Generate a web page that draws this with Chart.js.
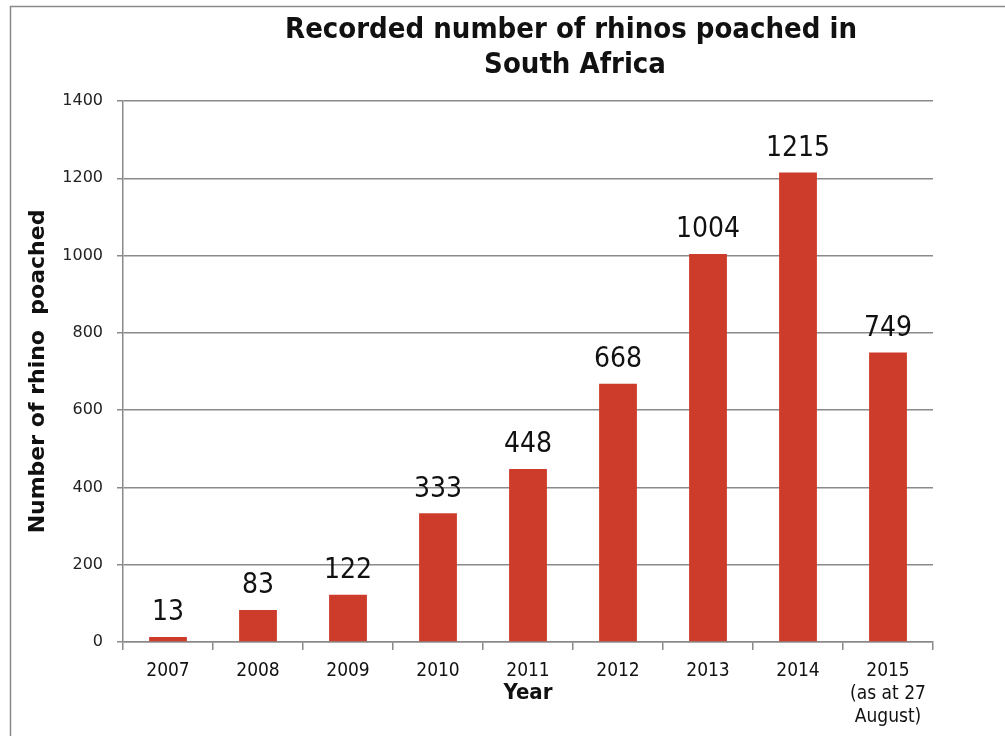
<!DOCTYPE html>
<html>
<head>
<meta charset="utf-8">
<script src="https://cdn.jsdelivr.net/npm/chart.js@4.4.0/dist/chart.umd.min.js"></script>
<style>
  html, body { margin: 0; padding: 0; background: #fff; }
  #wrap { width: 1005px; height: 736px; position: relative; }
</style>
</head>
<body>
<div id="wrap"><canvas id="barChart" width="1005" height="736"></canvas></div>
<script>
const years = ['2007', '2008', '2009', '2010', '2011', '2012', '2013', '2014', ['2015', '(as at 27', 'August)']];
const poached = [13, 83, 122, 333, 448, 668, 1004, 1215, 749];
const titleLines = ['Recorded number of rhinos poached in', 'South Africa'];

const condensed = '"DejaVu Sans Condensed", "DejaVu Sans", sans-serif';

// marco gris y titulo
const framePlugin = {
    id: 'frame',
    beforeDraw(chart) {
        const ctx = chart.ctx;
        ctx.save();
        ctx.fillStyle = '#fff';
        ctx.fillRect(0, 0, chart.width, chart.height);
        ctx.strokeStyle = '#8a8a8a';
        ctx.lineWidth = 1.5;
        ctx.beginPath();
        ctx.moveTo(10.5, chart.height);
        ctx.lineTo(10.5, 6.5);
        ctx.lineTo(chart.width, 6.5);
        ctx.stroke();
        ctx.restore();
    },
    afterDraw(chart) {
        const ctx = chart.ctx;
        ctx.save();
        ctx.fillStyle = '#111';
        ctx.font = 'bold 29px ' + condensed;
        ctx.textAlign = 'center';
        ctx.textBaseline = 'middle';
        ctx.fillText(titleLines[0], 571, 30);
        ctx.fillText(titleLines[1], 575, 65);
        ctx.restore();
    }
};

// etiquetas de valor sobre cada barra
const valueLabels = {
    id: 'valueLabels',
    afterDatasetsDraw(chart) {
        const ctx = chart.ctx;
        const meta = chart.getDatasetMeta(0);
        ctx.save();
        ctx.fillStyle = '#111';
        ctx.font = '28px ' + condensed;
        ctx.textAlign = 'center';
        ctx.textBaseline = 'bottom';
        meta.data.forEach((bar, i) => {
            ctx.fillText(String(poached[i]), bar.x, bar.y - 10);
        });
        ctx.restore();
    }
};

const ctx = document.getElementById('barChart').getContext('2d');
new Chart(ctx, {
    type: 'bar',
    data: {
        labels: years,
        datasets: [{
            data: poached,
            backgroundColor: '#cd3c2a',
            barPercentage: 0.42,
            categoryPercentage: 1
        }]
    },
    options: {
        responsive: false,
        animation: false,
        layout: { padding: { top: 101, left: 12, right: 72, bottom: 0 } },
        plugins: {
            legend: { display: false },
            title: { display: false },
            tooltip: { enabled: false }
        },
        scales: {
            x: {
                afterFit(scale) { scale.height = 94; },
                grid: { drawOnChartArea: false, color: '#8a8a8a', tickLength: 8, lineWidth: 1.5 },
                border: { color: '#8a8a8a', width: 1.5 },
                ticks: { color: '#111', font: { family: condensed, size: 19 }, padding: 10, maxRotation: 0 },
                title: {
                    display: true,
                    text: 'Year',
                    color: '#111',
                    font: { family: condensed, size: 22, weight: 'bold' },
                    padding: { top: 0, bottom: 30 }
                }
            },
            y: {
                min: 0,
                max: 1400,
                afterFit(scale) { scale.width = 111; },
                grid: { color: '#8a8a8a', tickLength: 6, lineWidth: 1.5 },
                border: { color: '#8a8a8a', width: 1.5 },
                ticks: {
                    stepSize: 200,
                    color: '#222',
                    font: { family: '"DejaVu Sans", sans-serif', size: 16 },
                    padding: 14,
                    callback: (v) => String(v)
                },
                title: {
                    display: true,
                    text: 'Number of rhino  poached',
                    color: '#111',
                    font: { family: '"DejaVu Sans", sans-serif', size: 22, weight: 'bold' },
                    padding: { top: 13, bottom: 0 }
                }
            }
        }
    },
    plugins: [framePlugin, valueLabels]
});
</script>
</body>
</html>
